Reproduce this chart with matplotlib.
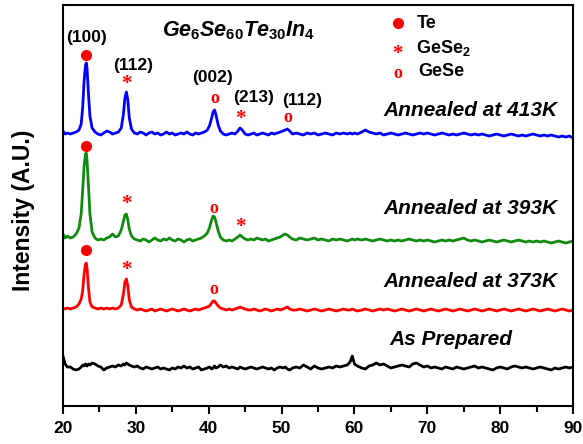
import numpy as np
import matplotlib
matplotlib.use('Agg')
import matplotlib.pyplot as plt

plt.rcParams['font.family'] = ['Liberation Sans', 'DejaVu Sans']
plt.rcParams['mathtext.fontset'] = 'custom'
plt.rcParams['mathtext.it'] = 'Liberation Sans:bold:italic'
plt.rcParams['mathtext.rm'] = 'Liberation Sans:bold'
plt.rcParams['mathtext.bf'] = 'Liberation Sans:bold'

# 2-theta positions (deg), denser around the reflections
two_theta = [
    20.0, 20.3, 20.6, 21.0, 21.4, 21.8, 22.2, 22.5, 22.7, 22.9, 23.1, 23.2, 23.3, 23.5, 23.7, 24.0,
    24.4, 24.8, 25.2, 25.6, 26.0, 26.4, 26.8, 27.2, 27.6,
    28.0, 28.3, 28.5, 28.7, 28.9, 29.1, 29.4, 29.8,
    30.2, 30.6, 31.0, 31.4, 31.8, 32.2, 32.6, 33.0, 33.4, 33.8, 34.2, 34.6, 35.0,
    35.4, 35.8, 36.2, 36.6, 37.0, 37.4, 37.8, 38.2, 38.6, 39.0, 39.4, 39.8,
    40.1, 40.4, 40.6, 40.8, 41.0, 41.3, 41.6, 42.0,
    42.4, 42.8, 43.2, 43.6, 44.0, 44.3, 44.6, 45.0, 45.4,
    45.8, 46.2, 46.6, 47.0, 47.4, 47.8, 48.2, 48.6, 49.0, 49.4, 49.8,
    50.2, 50.5, 50.8, 51.1, 51.5,
    52.0, 52.5, 53.0, 53.5, 54.0, 54.5, 55.0, 55.5, 56.0, 56.5, 57.0, 57.5, 58.0, 58.5, 59.0,
    59.4, 59.7, 60.0, 60.4,
    61.0, 61.5, 62.0, 62.5, 63.0, 63.5, 64.0, 64.5, 65.0, 65.5,
    66.0, 66.5, 67.0, 67.5, 68.0, 68.5, 69.0, 69.5, 70.0, 70.5,
    71.0, 71.5, 72.0, 72.5, 73.0, 73.5, 74.0, 74.5, 75.0, 75.5,
    76.0, 76.5, 77.0, 77.5, 78.0, 78.5, 79.0, 79.5, 80.0, 80.5,
    81.0, 81.5, 82.0, 82.5, 83.0, 83.5, 84.0, 84.5, 85.0, 85.5,
    86.0, 86.5, 87.0, 87.5, 88.0, 88.5, 89.0, 89.5, 90.0,
]

# intensities (a.u., already offset for stacking)
annealed_413 = [
    275, 272, 273, 272, 273, 274, 276, 282, 298, 325, 341, 343, 338, 312, 290, 278,
    274, 272, 271, 273, 275, 274, 272, 273, 274,
    278, 292, 308, 314, 306, 288, 277, 273,
    272, 274, 273, 271, 273, 274, 272, 273, 271, 272, 274, 272, 273,
    271, 272, 273, 272, 274, 272, 271, 273, 272, 273, 274, 276,
    280, 288, 294, 296, 291, 281, 275, 272,
    271, 272, 273, 272, 275, 278, 276, 272, 271,
    272, 273, 271, 272, 273, 272, 271, 273, 272, 273, 274,
    275, 276, 277, 275, 272,
    273, 272, 271, 273, 272, 273, 271, 272, 273, 272, 271, 273, 272, 273, 272,
    273, 272, 273, 272,
    274, 276, 274, 273, 272, 273, 271, 272, 273, 272,
    271, 272, 273, 272, 271, 272, 273, 272, 273, 272,
    271, 272, 273, 272, 271, 272, 271, 272, 273, 272,
    271, 272, 271, 272, 271, 270, 271, 272, 271, 270,
    271, 272, 271, 270, 271, 270, 271, 272, 271, 270,
    271, 270, 271, 270, 269, 270, 269, 270, 268,
]

annealed_393 = [
    172, 168, 170, 168, 169, 172, 178, 192, 215, 240, 252, 253, 246, 220, 192, 174,
    168, 166, 167, 166, 168, 169, 172, 169, 170,
    176, 185, 191, 192, 186, 177, 170, 167,
    166, 165, 167, 166, 164, 166, 168, 166, 165, 167, 166, 168, 166,
    165, 167, 166, 164, 166, 167, 165, 166, 167, 168, 170, 173,
    178, 186, 190, 189, 184, 175, 169, 166,
    165, 166, 165, 167, 169, 171, 169, 167, 166,
    167, 166, 168, 167, 166, 167, 165, 166, 167, 168, 169,
    171, 172, 171, 169, 167,
    166, 168, 167, 166, 167, 168, 166, 167, 166, 165, 167, 166, 167, 166, 165,
    166, 167, 166, 167,
    166, 167, 166, 165, 166, 167, 166, 165, 166, 165,
    166, 165, 166, 167, 166, 165, 166, 165, 166, 165,
    164, 165, 166, 165, 166, 165, 166, 167, 168, 166,
    165, 166, 165, 164, 165, 166, 165, 164, 165, 166,
    165, 164, 165, 166, 165, 164, 165, 164, 165, 164,
    165, 164, 163, 164, 165, 164, 163, 164, 165,
]

annealed_373 = [
    98, 97, 98, 97, 98, 99, 102, 107, 115, 132, 142, 143, 138, 118, 104, 99,
    98, 97, 98, 97, 98, 97, 98, 97, 98,
    101, 112, 124, 127, 120, 106, 99, 97,
    96, 97, 96, 95, 96, 97, 95, 96, 97, 96, 95, 96, 97,
    96, 95, 96, 97, 96, 95, 96, 97, 96, 97, 98, 99,
    100, 103, 105, 105, 103, 100, 98, 97,
    96, 97, 96, 97, 98, 99, 98, 97, 96,
    96, 97, 96, 95, 96, 97, 96, 95, 96, 97, 96,
    97, 98, 99, 97, 96,
    96, 97, 96, 95, 96, 97, 96, 95, 96, 97, 96, 95, 96, 97, 96,
    96, 97, 96, 95,
    96, 97, 96, 95, 96, 97, 96, 97, 96, 95,
    96, 97, 96, 95, 96, 97, 96, 95, 96, 97,
    96, 95, 96, 97, 96, 95, 96, 97, 96, 95,
    96, 97, 96, 95, 96, 97, 96, 95, 96, 97,
    96, 95, 96, 97, 96, 95, 96, 97, 96, 95,
    96, 97, 96, 95, 96, 97, 96, 95, 96,
]

as_prepared = [
    50, 42, 39, 39, 37, 36, 37, 39, 41, 40, 42, 41, 40, 42, 41, 43,
    42, 40, 39, 36, 38, 39, 40, 39, 41,
    40, 42, 41, 43, 42, 41, 40, 39,
    40, 38, 37, 39, 38, 37, 38, 39, 37, 38, 37, 36, 38,
    37, 39, 38, 40, 38, 39, 37, 38, 39, 36, 37, 38,
    39, 37, 38, 40, 38, 39, 41, 39,
    40, 38, 39, 38, 37, 39, 38, 37, 38,
    39, 38, 37, 38, 39, 38, 37, 38, 36, 38, 39,
    38, 39, 37, 36, 38,
    39, 38, 41, 39, 37, 40, 38, 37, 38, 39, 38, 40, 39, 40, 41,
    44, 50, 42, 40,
    38, 37, 40, 41, 43, 41, 42, 40, 38, 39,
    40, 41, 40, 39, 42, 43, 41, 39, 40, 38,
    39, 38, 37, 39, 38, 37, 39, 38, 37, 38,
    39, 40, 38, 39, 38, 37, 36, 38, 39, 38,
    37, 39, 40, 39, 38, 39, 38, 37, 38, 39,
    38, 37, 36, 38, 37, 38, 39, 38, 39,
]

curves = [annealed_413, annealed_393, annealed_373, as_prepared]
colors = ['#0000ff', '#108a10', '#ff0000', 'black']
curve_names = ['Annealed at 413K', 'Annealed at 393K', 'Annealed at 373K', 'As Prepared']
name_pos = [(557, 110), (557, 208), (557, 281), (512, 340)]   # label positions in pixels

# phase markers: (2theta, height)
te_peaks = [(23.2, 351), (23.2, 260), (23.2, 156)]
gese2_peaks = [(28.7, 322), (44.3, 287), (28.7, 202), (44.3, 179), (28.7, 136)]
gese_peaks = [(40.8, 308), (50.8, 289), (40.7, 198), (40.7, 117)]

# miller indices on the 413K pattern
hkl_labels = ['(100)', '(112)', '(002)', '(213)', '(112)']
hkl_pos = [(23.2, 369), (29.6, 341), (40.5, 329), (46.1, 309), (52.8, 306)]

fig = plt.figure(figsize=(5.83, 4.44), dpi=100)
ax = fig.add_axes([0.108, 0.0856, 0.875, 0.9031])

x = np.array(two_theta)
for y, c in zip(curves, colors):
    ax.plot(x, np.array(y), color=c, lw=2.0, solid_joinstyle='round')

ax.set_xlim(20, 90)
ax.set_ylim(0, 401)

# curve names (pixel coords -> axes fraction)
for name, (px, py) in zip(curve_names, name_pos):
    ax.text((px - 63) / 510, (406 - py) / 401, name, transform=ax.transAxes,
            ha='right', va='center', fontsize=15, fontweight='bold', style='italic')

# phase symbols
for tt, h in te_peaks:
    ax.plot(tt, h, 'o', color='red', ms=7, mec='red')
for tt, h in gese2_peaks:
    ax.text(tt, h, '*', color='red', ha='center', va='center', fontsize=15,
            family='Liberation Serif', fontweight='bold')
for tt, h in gese_peaks:
    ax.text(tt, h, 'o', color='red', ha='center', va='center', fontsize=13,
            family='Liberation Serif', fontweight='bold')

for lab, (tt, h) in zip(hkl_labels, hkl_pos):
    ax.text(tt, h, lab, ha='center', va='center', fontsize=12.5, fontweight='bold')

# composition
ax.text(0.195, 0.935, r'$\mathit{Ge_{6}Se_{60}Te_{30}In_{4}}$', transform=ax.transAxes,
        ha='left', va='center', fontsize=15.5)

# phase key
ax.plot(0.656, 0.955, 'o', color='red', ms=7, transform=ax.transAxes)
ax.text(0.693, 0.955, 'Te', transform=ax.transAxes, va='center', fontsize=13, fontweight='bold')
ax.text(0.656, 0.878, '*', transform=ax.transAxes, color='red', ha='center', va='center',
        fontsize=15, family='Liberation Serif', fontweight='bold')
ax.text(0.693, 0.893, r'GeSe$_{2}$', transform=ax.transAxes, va='center', fontsize=13,
        fontweight='bold')
ax.text(0.656, 0.83, 'o', transform=ax.transAxes, color='red', ha='center', va='center',
        fontsize=13, family='Liberation Serif', fontweight='bold')
ax.text(0.697, 0.835, 'GeSe', transform=ax.transAxes, va='center', fontsize=13,
        fontweight='bold')

# axes styling
ax.set_xticks(np.arange(20, 91, 10))
ax.set_xticks(np.arange(25, 90, 10), minor=True)
ax.set_yticks([])
ax.tick_params(axis='x', which='major', direction='out', length=6, width=1.5,
               labelsize=12.5, pad=5)
ax.tick_params(axis='x', which='minor', direction='out', length=4, width=1.5)
for lab in ax.get_xticklabels():
    lab.set_fontweight('bold')
for sp in ax.spines.values():
    sp.set_linewidth(1.5)

fig.text(24 / 583, 1 - 210 / 444, 'Intensity (A.U.)', rotation=90, ha='center', va='center',
         fontsize=16.5, fontweight='bold')

fig.savefig('out.png', dpi=100)
